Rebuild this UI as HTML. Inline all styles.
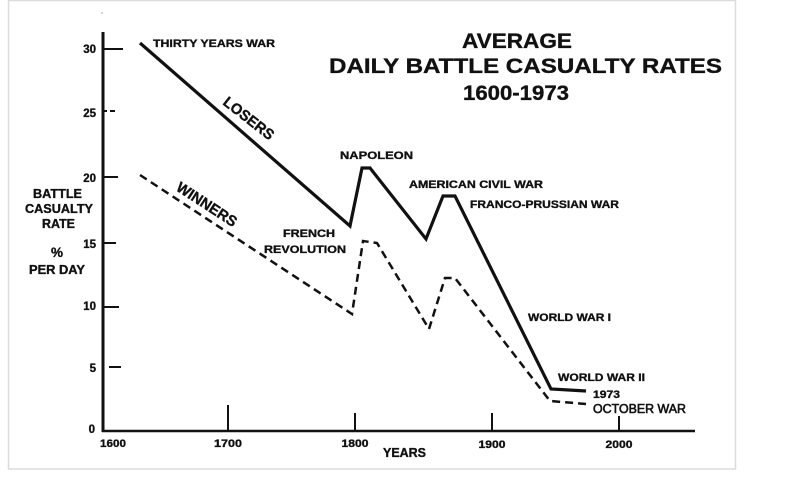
<!DOCTYPE html>
<html><head><meta charset="utf-8"><style>
html,body{margin:0;padding:0;background:#fff;}
svg{display:block;}
text{font-family:"Liberation Sans",Arial,sans-serif;font-weight:bold;fill:#111;stroke:#111;stroke-width:0.35;}
</style></head><body>
<svg width="785" height="477" viewBox="0 0 785 477" xmlns="http://www.w3.org/2000/svg">
<rect x="0" y="0" width="785" height="477" fill="#fff"/>
<rect x="8.5" y="0.5" width="727" height="468.5" fill="none" stroke="#dcdcdc" stroke-width="1.5"/>
<circle cx="102" cy="13" r="0.8" fill="#999"/>

<!-- axes -->
<line x1="103" y1="32" x2="103" y2="432" stroke="#111" stroke-width="3"/>
<line x1="102" y1="431" x2="695" y2="431" stroke="#111" stroke-width="2.6"/>

<!-- y ticks -->
<g stroke="#111" stroke-width="2">
<line x1="103" y1="49" x2="123" y2="49"/>
<line x1="103" y1="111" x2="107" y2="111"/><line x1="110" y1="111" x2="115" y2="111"/>
<line x1="103" y1="177" x2="118" y2="177"/>
<line x1="103" y1="243" x2="116" y2="243"/>
<line x1="103" y1="307" x2="119" y2="307"/>
<line x1="109" y1="367" x2="121" y2="367"/>
<!-- x ticks -->
<line x1="228" y1="405" x2="228" y2="431"/>
<line x1="355" y1="413" x2="355" y2="431"/>
<line x1="492" y1="413" x2="492" y2="431"/>
<line x1="619" y1="416" x2="619" y2="431"/>
</g>

<!-- y tick labels -->
<g font-size="11.5" text-anchor="end">
<text x="96" y="53">30</text>
<text x="96" y="117">25</text>
<text x="96" y="182">20</text>
<text x="96" y="248">15</text>
<text x="96" y="310">10</text>
<text x="96" y="372">5</text>
<text x="95" y="433">0</text>
</g>
<!-- x tick labels -->
<g font-size="11" text-anchor="middle">
<text x="113" y="447" textLength="26" lengthAdjust="spacingAndGlyphs">1600</text>
<text x="228" y="447" textLength="28" lengthAdjust="spacingAndGlyphs">1700</text>
<text x="355" y="447" textLength="27" lengthAdjust="spacingAndGlyphs">1800</text>
<text x="492" y="448" textLength="27" lengthAdjust="spacingAndGlyphs">1900</text>
<text x="619" y="448" textLength="27" lengthAdjust="spacingAndGlyphs">2000</text>
</g>
<text x="383" y="457" font-size="13" textLength="43" lengthAdjust="spacingAndGlyphs">YEARS</text>

<!-- y axis label -->
<g font-size="13" text-anchor="middle">
<text x="57.5" y="198" textLength="49" lengthAdjust="spacingAndGlyphs">BATTLE</text>
<text x="59" y="213" textLength="68" lengthAdjust="spacingAndGlyphs">CASUALTY</text>
<text x="58.5" y="228" textLength="33" lengthAdjust="spacingAndGlyphs">RATE</text>
<text x="57" y="257" font-size="14" textLength="12" lengthAdjust="spacingAndGlyphs">%</text>
<text x="57" y="274" textLength="56" lengthAdjust="spacingAndGlyphs">PER DAY</text>
</g>

<!-- title -->
<g font-size="21" text-anchor="middle">
<text x="517" y="48" textLength="110" lengthAdjust="spacingAndGlyphs">AVERAGE</text>
<text x="525.5" y="73" textLength="393" lengthAdjust="spacingAndGlyphs">DAILY BATTLE CASUALTY RATES</text>
<text x="516" y="100" textLength="106" lengthAdjust="spacingAndGlyphs">1600-1973</text>
</g>

<!-- series -->
<polyline points="140,43 350,226 362,168 370,168 426,239 443,196 455,196 551,389 586,391" fill="none" stroke="#111" stroke-width="3.2" stroke-linejoin="miter"/>
<polyline points="140,175 352,314 363,241 377,243 429,329 445,278 455,278 550,401 586,404" fill="none" stroke="#111" stroke-width="2.5" stroke-dasharray="8,5"/>

<!-- annotations -->
<g font-size="11">
<text x="153" y="47" textLength="122" lengthAdjust="spacingAndGlyphs">THIRTY YEARS WAR</text>
<text x="340" y="159" textLength="73" lengthAdjust="spacingAndGlyphs">NAPOLEON</text>
<text x="409" y="188" textLength="134" lengthAdjust="spacingAndGlyphs">AMERICAN CIVIL WAR</text>
<text x="470" y="208" textLength="149" lengthAdjust="spacingAndGlyphs">FRANCO-PRUSSIAN WAR</text>
<text x="283" y="237" textLength="52" lengthAdjust="spacingAndGlyphs">FRENCH</text>
<text x="264" y="253" textLength="82" lengthAdjust="spacingAndGlyphs">REVOLUTION</text>
<text x="528" y="321" textLength="83" lengthAdjust="spacingAndGlyphs">WORLD WAR I</text>
<text x="558" y="381" textLength="87" lengthAdjust="spacingAndGlyphs">WORLD WAR II</text>
<text x="593" y="398" textLength="27" lengthAdjust="spacingAndGlyphs">1973</text>
<text x="593" y="413" font-size="12.5" textLength="93" lengthAdjust="spacingAndGlyphs" style="font-weight:normal;stroke-width:0.6">OCTOBER WAR</text>
</g>

<text font-size="15" text-anchor="middle" transform="translate(249,118) rotate(38)" y="5.5" textLength="60" lengthAdjust="spacingAndGlyphs">LOSERS</text>
<text font-size="15" text-anchor="middle" transform="translate(207,204) rotate(33)" y="5.5" textLength="69" lengthAdjust="spacingAndGlyphs">WINNERS</text>
</svg>
</body></html>
